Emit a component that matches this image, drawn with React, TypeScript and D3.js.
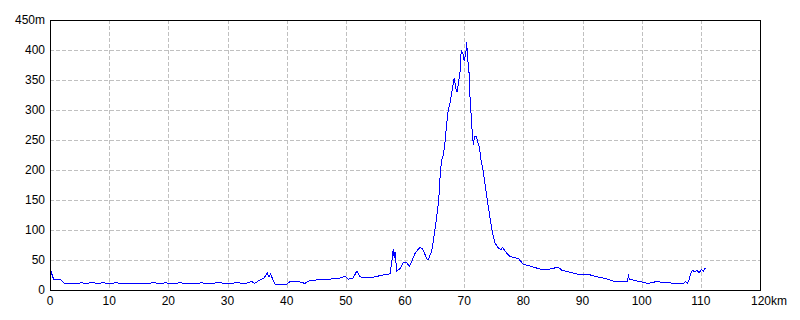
import React from "react";
import * as d3 from "d3";

const distanceKm = [
  0, 0.2, 0.6, 1.3, 1.7, 2.0, 2.5, 3.5, 4.5, 5.4, 6.0, 6.8, 7.3, 8.0, 9.0, 10.1, 11.3, 12.4, 14.1, 16.0,
  17.7, 18.5, 19.7, 20.3, 22.0, 23.1, 24.8, 25.6, 26.5, 28.7, 30.0, 31.6, 33.0, 34.1, 34.6, 35.5, 36.2, 36.7, 37.0, 37.3,
  37.7, 38.0, 39.9, 40.6, 42.0, 43.1, 43.9, 45.5, 47.3, 49.0, 49.9, 50.4, 51.2, 51.9, 52.4, 53.5, 55.0, 55.8, 57.5, 57.9,
  58.0, 58.2, 58.3, 58.6, 59.2, 59.7, 60.3, 60.7, 61.1, 61.7, 62.5, 63.0, 63.7, 63.9, 64.2, 64.5, 64.8, 65.2, 65.7, 66.0,
  66.2, 66.5, 66.8, 67.0, 67.3, 67.6, 67.9, 68.2, 68.3, 68.6, 68.8, 69.0, 69.3, 69.5, 69.7, 69.9, 70.0, 70.3, 70.4, 70.6,
  70.7, 70.9, 71.0, 71.2, 71.4, 71.6, 71.7, 72.0, 72.3, 72.6, 72.8, 73.2, 73.9, 74.7, 75.2, 75.8, 76.2, 76.5, 77.2, 77.7,
  78.6, 79.2, 80.0, 81.1, 82.8, 84.5, 85.9, 86.5, 87.3, 88.2, 89.6, 91.0, 92.4, 93.5, 94.6, 95.2, 97.6, 97.8, 97.9, 98.3,
  99.7, 101.1, 102.5, 104.2, 106.5, 107.0, 107.4, 107.7, 108.0, 108.3, 108.6, 109.0, 109.3, 109.7, 110.1, 110.4, 110.8,
];

const elevationM = [
  35, 30, 18, 18, 18, 15, 11, 11, 11, 12, 11, 12, 12, 11, 12, 11, 12, 10, 11, 11,
  12, 11, 12, 10, 12, 11, 11, 12, 11, 12, 11, 12, 11, 14, 11, 17, 20, 29, 22, 27,
  16, 10, 9, 14, 14, 11, 16, 17, 18, 20, 23, 18, 20, 32, 22, 20, 22, 24, 27, 58,
  68, 53, 64, 32, 36, 46, 46, 39, 47, 61, 71, 68, 52, 50, 57, 64, 83, 110, 150, 200,
  216, 225, 250, 272, 300, 311, 328, 347, 353, 336, 330, 342, 364, 400, 394, 392, 381, 397, 414, 389,
  372, 356, 317, 289, 255, 242, 255, 257, 247, 236, 219, 200, 150, 100, 78, 70, 67, 71, 61, 56,
  54, 52, 43, 40, 35, 35, 38, 33, 31, 29, 25, 26, 22, 20, 17, 15, 15, 27, 17, 17,
  14, 11, 14, 12, 11, 10, 14, 11, 17, 28, 33, 30, 33, 29, 34, 31, 37,
];

const xTicks = [0, 10, 20, 30, 40, 50, 60, 70, 80, 90, 100, 110, 120];
const yTicks = [0, 50, 100, 150, 200, 250, 300, 350, 400, 450];

const W = 800;
const H = 320;
const left = 50;
const right = 760;
const top = 20;
const bottom = 290;

export default function App() {
  const x = d3.scaleLinear().domain([0, 120]).range([left, right]);
  const y = d3.scaleLinear().domain([0, 450]).range([bottom, top]);
  const pts: [number, number][] = distanceKm.map((d, i) => [d, elevationM[i]]);
  const line = d3
    .line<[number, number]>()
    .x((d) => x(d[0]))
    .y((d) => y(d[1]));
  const font = "Arial, 'Liberation Sans', sans-serif";
  return (
    <div style={{ position: "absolute", left: 0, top: 0 }}>
      <svg width={W} height={H} style={{ display: "block", background: "#fff" }}>
        <rect x={0} y={0} width={W} height={H} fill="#fff" />
        <g shapeRendering="crispEdges" stroke="#c0c0c0" strokeDasharray="4,2" strokeWidth={1}>
          {xTicks.slice(1, -1).map((t) => (
            <line key={"gx" + t} x1={Math.round(x(t)) + 0.5} x2={Math.round(x(t)) + 0.5} y1={top} y2={bottom} />
          ))}
          {yTicks.slice(1, -1).map((t) => (
            <line key={"gy" + t} x1={left} x2={right} y1={Math.round(y(t)) + 0.5} y2={Math.round(y(t)) + 0.5} />
          ))}
        </g>
        <path d={line(pts) || ""} fill="none" stroke="#0000ff" strokeWidth={1} shapeRendering="crispEdges" />
        <rect
          x={left + 0.5}
          y={top + 0.5}
          width={right - left}
          height={bottom - top}
          fill="none"
          stroke="#000"
          strokeWidth={1}
          shapeRendering="crispEdges"
        />
        <g fontFamily={font} fontSize={12} fill="#000">
          {yTicks.map((t) => (
            <text key={"yl" + t} x={45} y={y(t) + 4} textAnchor="end">
              {t === 450 ? "450m" : String(t)}
            </text>
          ))}
          {xTicks.map((t) =>
            t === 120 ? (
              <text key={"xl" + t} x={x(t) - 9} y={305} textAnchor="start">
                120km
              </text>
            ) : (
              <text key={"xl" + t} x={x(t)} y={305} textAnchor="middle">
                {String(t)}
              </text>
            )
          )}
        </g>
      </svg>
    </div>
  );
}
